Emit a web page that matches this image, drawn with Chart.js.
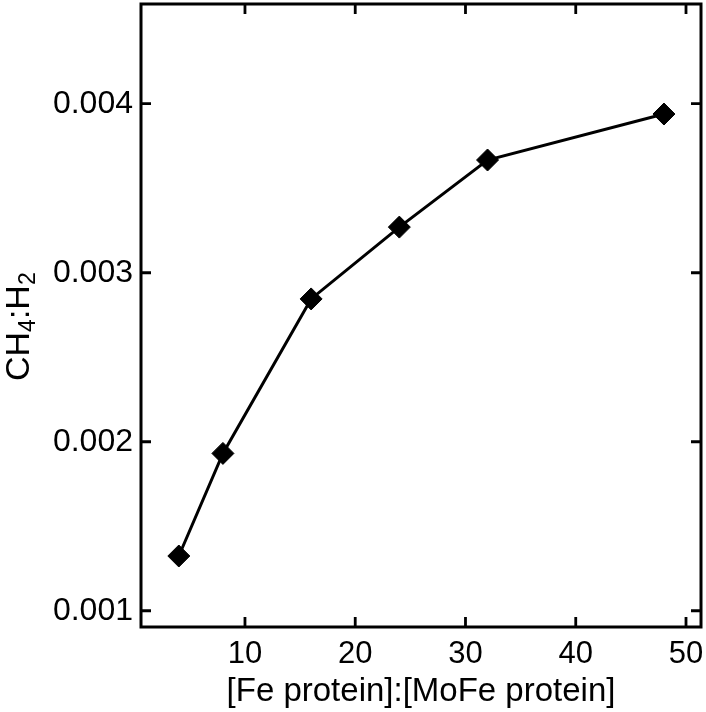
<!DOCTYPE html>
<html>
<head>
<meta charset="utf-8">
<script src="https://cdn.jsdelivr.net/npm/chart.js@4/dist/chart.umd.min.js"></script>
<style>
html,body{margin:0;padding:0;background:#fff;}
#wrap{width:706px;height:712px;}
</style>
</head>
<body>
<div id="wrap"><canvas id="c" width="706" height="712"></canvas></div>
<script>
const ratioFe = [4, 8, 16, 24, 32, 48];
const ch4h2 = [0.001324, 0.001931, 0.002845, 0.003270, 0.003667, 0.003939];
const xTicks = [10, 20, 30, 40, 50];
const yTicks = [0.001, 0.002, 0.003, 0.004];
const xTitle = '[Fe protein]:[MoFe protein]';
const yTitleParts = [['CH', false], ['4', true], [':H', false], ['2', true]];

const FONT = "'Liberation Sans', Arial, sans-serif";

const framePlugin = {
  id: 'frame',
  afterDraw(chart) {
    const {ctx, chartArea: a, scales: {x, y}} = chart;
    ctx.save();
    ctx.strokeStyle = '#000';
    ctx.lineWidth = 3;
    ctx.strokeRect(a.left, a.top, a.right - a.left, a.bottom - a.top);
    ctx.lineWidth = 2.8;
    const L = 10;
    ctx.beginPath();
    xTicks.forEach(v => {
      const px = x.getPixelForValue(v);
      ctx.moveTo(px, a.bottom); ctx.lineTo(px, a.bottom - L);
      ctx.moveTo(px, a.top); ctx.lineTo(px, a.top + L);
    });
    yTicks.forEach(v => {
      const py = y.getPixelForValue(v);
      ctx.moveTo(a.left, py); ctx.lineTo(a.left + L, py);
      ctx.moveTo(a.right, py); ctx.lineTo(a.right - L, py);
    });
    ctx.stroke();
    // y axis title with subscripts
    const big = 34, small = 23;
    ctx.fillStyle = '#000';
    ctx.textBaseline = 'alphabetic';
    ctx.textAlign = 'left';
    const yStart = 381;
    ctx.translate(29, yStart);
    ctx.rotate(-Math.PI / 2);
    let cx = 0;
    yTitleParts.forEach(([t, sub]) => {
      ctx.font = (sub ? small : big) + 'px ' + FONT;
      ctx.fillText(t, cx, sub ? 6 : 0);
      cx += ctx.measureText(t).width;
    });
    ctx.restore();
  }
};

new Chart(document.getElementById('c'), {
  type: 'line',
  data: {
    datasets: [{
      data: ratioFe.map((v, i) => ({x: v, y: ch4h2[i]})),
      borderColor: '#000',
      backgroundColor: '#000',
      borderWidth: 3,
      pointStyle: 'rectRot',
      pointRadius: 11,
      pointHoverRadius: 11,
      pointBackgroundColor: '#000',
      pointBorderColor: '#000',
      pointBorderWidth: 1,
      tension: 0,
      fill: false
    }]
  },
  options: {
    responsive: false,
    animation: false,
    events: [],
    layout: {autoPadding: false, padding: {left: 0, right: 5, top: 4, bottom: 0}},
    plugins: {legend: {display: false}, tooltip: {enabled: false}},
    scales: {
      x: {
        type: 'linear',
        min: 0.57,
        max: 51.36,
        grid: {display: false, drawTicks: false},
        border: {display: false},
        afterBuildTicks: s => { s.ticks = xTicks.map(v => ({value: v})); },
        afterFit: s => { s.height = 85; s.paddingLeft = 0; s.paddingRight = 0; s.paddingTop = 0; s.paddingBottom = 0; },
        ticks: {
          color: '#000',
          font: {family: FONT, size: 31},
          padding: 9,
          maxRotation: 0,
          callback: v => String(v)
        },
        title: {
          display: true,
          text: xTitle,
          color: '#000',
          font: {family: FONT, size: 33},
          padding: {top: 0, bottom: 0}
        }
      },
      y: {
        type: 'linear',
        min: 0.000904,
        max: 0.00459,
        grid: {display: false, drawTicks: false},
        border: {display: false},
        afterBuildTicks: s => { s.ticks = yTicks.map(v => ({value: v})); },
        afterFit: s => { s.width = 141; s.paddingLeft = 0; s.paddingRight = 0; s.paddingTop = 0; s.paddingBottom = 0; },
        ticks: {
          color: '#000',
          font: {family: FONT, size: 32},
          padding: 8,
          callback: v => v.toFixed(3)
        }
      }
    }
  },
  plugins: [framePlugin]
});
</script>
</body>
</html>
